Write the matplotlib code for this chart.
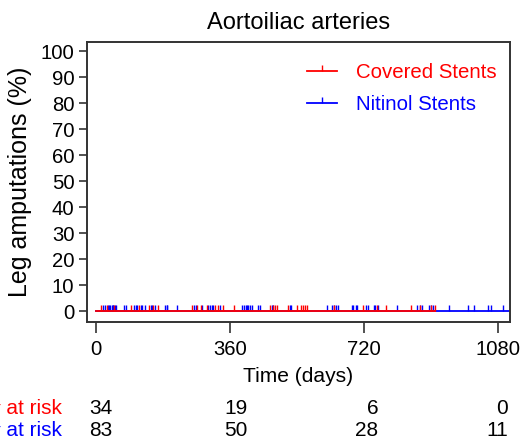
import matplotlib
matplotlib.use("Agg")
import matplotlib.pyplot as plt
import numpy as np

plt.rcParams['font.family'] = ['Liberation Sans', 'DejaVu Sans']

# follow-up (days) and censor times, no events in either group
covered_end = 911
covered_censor = [14, 30, 49, 95, 116, 143, 154, 166, 257, 272, 281, 297, 320, 329, 342,
                  371, 467, 476, 481, 485, 517, 541, 550, 555, 561, 568, 639, 718,
                  754, 780, 845, 870, 900, 911]
nitinol_end = 1200
nitinol_censor = [20, 25, 33, 35, 38, 43, 45, 47, 50, 55, 76, 81, 103, 107, 110, 121, 125,
                  132, 148, 150, 158, 185, 190, 192, 219, 264, 270, 286, 302, 305, 311, 315, 333,
                  393, 398, 402, 405, 409, 414, 420, 436, 440, 472, 475, 520, 523, 620, 635,
                  640, 644, 649, 687, 690, 698, 700,
                  725, 730, 747, 750, 758, 808, 863, 870, 875, 895, 900, 906, 947, 1000,
                  1016, 1054, 1060, 1094]

risk_times = [0, 360, 720, 1080]
covered_risk = [34, 19, 6, 0]
nitinol_risk = [83, 50, 28, 11]

fig = plt.figure(figsize=(5.23, 4.42), dpi=100)
ax = fig.add_axes([0.1663, 0.2715, 0.809, 0.6335])

# nitinol first, covered on top
ax.plot([0, nitinol_end], [0, 0], color='blue', lw=1.3)
ax.plot(nitinol_censor, np.zeros(len(nitinol_censor)), ls='none', marker=2,
        ms=4, mew=1.0, color='blue')
ax.plot([0, covered_end], [0, 0], color='red', lw=1.3)
ax.plot(covered_censor, np.zeros(len(covered_censor)), ls='none', marker=2,
        ms=4, mew=1.0, color='red')

h1, = ax.plot([], [], color='red', lw=1.3, marker=2, ms=4, mew=1.0)
h2, = ax.plot([], [], color='blue', lw=1.3, marker=2, ms=4, mew=1.0)
leg = ax.legend([h1, h2], ['Covered Stents', 'Nitinol Stents'], loc='upper right',
                frameon=False, fontsize=14.7, numpoints=1, handlelength=1.47,
                handletextpad=0.93, labelspacing=0.65, borderaxespad=0,
                bbox_to_anchor=(0.988, 0.954))
for t, c in zip(leg.get_texts(), ['red', 'blue']):
    t.set_color(c)

ax.set_xlim(-24, 1112)
ax.set_ylim(-4.2, 103.5)
ax.set_xticks(risk_times)
ax.set_yticks(np.arange(0, 101, 10))
ax.tick_params(labelsize=14.6, width=1.2, color='#333333')
ax.tick_params(axis='y', length=6, pad=3)
ax.tick_params(axis='x', length=8, pad=5)
for s in ax.spines.values():
    s.set_linewidth(1.4)
    s.set_color('#333333')

ax.set_title('Aortoiliac arteries', fontsize=17, pad=9)
ax.set_xlabel('Time (days)', fontsize=15.1, labelpad=6)
ax.set_ylabel('Leg amputations (%)', fontsize=18, labelpad=6)

# number at risk table
trans = matplotlib.transforms.blended_transform_factory(ax.transData, fig.transFigure)
offsets = [45, 48, 38, 27]
for t, off, a, b in zip(risk_times, offsets, covered_risk, nitinol_risk):
    fig.text(t + off, 1 - 409 / 442, str(a), transform=trans, ha='right', va='center', fontsize=15)
    fig.text(t + off, 1 - 431 / 442, str(b), transform=trans, ha='right', va='center', fontsize=15)
fig.text(62 / 523, 1 - 409 / 442, '# at risk', color='red', ha='right', va='center', fontsize=15)
fig.text(62 / 523, 1 - 431 / 442, '# at risk', color='blue', ha='right', va='center', fontsize=15)

fig.savefig('out.png', dpi=100)
